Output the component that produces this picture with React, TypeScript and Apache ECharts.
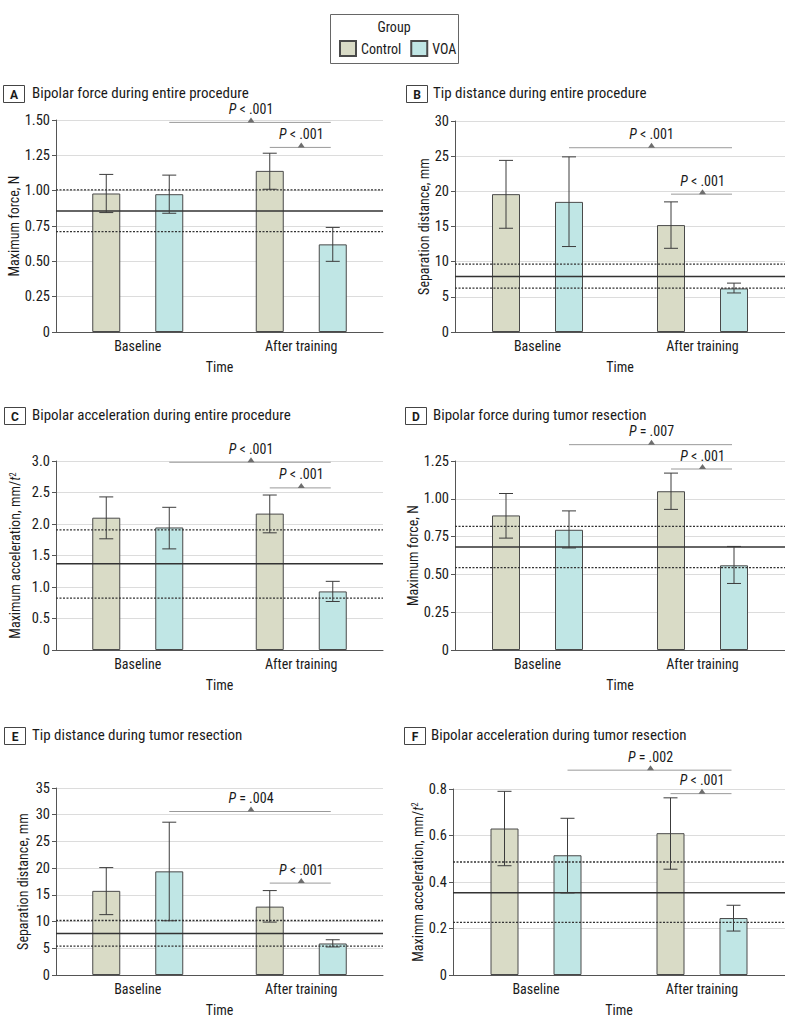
import React, { useEffect, useRef } from "react";
import * as echarts from "echarts";

// ---------------- data ----------------
const categories = ["Baseline", "After training"];
const groupNames = ["Control", "VOA"];

const panelLetters = ["A", "B", "C", "D", "E", "F"];
const panelTitles = [
  "Bipolar force during entire procedure",
  "Tip distance during entire procedure",
  "Bipolar acceleration during entire procedure",
  "Bipolar force during tumor resection",
  "Tip distance during tumor resection",
  "Bipolar acceleration during tumor resection",
];
const yAxisNames = [
  "Maximum force, N",
  "Separation distance, mm",
  "{a|Maximum acceleration, mm/}{b|t}{c|2}",
  "Maximum force, N",
  "Separation distance, mm",
  "{a|Maximm acceleration, mm/}{b|t}{c|2}",
];
const yMax = [1.5, 30, 3, 1.25, 35, 0.8];
const yInterval = [0.25, 5, 0.5, 0.25, 5, 0.2];
const yDecimals = [2, 0, 1, 2, 0, 1];

// means [Baseline, After training] per panel A..F
const controlMeans = [
  [0.98, 1.14],
  [19.6, 15.2],
  [2.1, 2.165],
  [0.89, 1.05],
  [15.75, 12.8],
  [0.63, 0.61],
];
const voaMeans = [
  [0.975, 0.62],
  [18.5, 6.2],
  [1.945, 0.93],
  [0.795, 0.56],
  [19.4, 5.9],
  [0.515, 0.245],
];
const controlLow = [
  [0.845, 1.01],
  [14.75, 11.9],
  [1.765, 1.86],
  [0.74, 0.93],
  [11.3, 9.9],
  [0.47, 0.455],
];
const controlHigh = [
  [1.115, 1.265],
  [24.4, 18.5],
  [2.43, 2.46],
  [1.035, 1.17],
  [20.1, 15.8],
  [0.79, 0.762],
];
const voaLow = [
  [0.84, 0.5],
  [12.15, 5.55],
  [1.605, 0.77],
  [0.675, 0.44],
  [10.15, 5.25],
  [0.353, 0.189],
];
const voaHigh = [
  [1.11, 0.74],
  [24.9, 6.95],
  [2.265, 1.09],
  [0.92, 0.685],
  [28.6, 6.6],
  [0.674, 0.3],
];
// reference band (mean, lower, upper)
const refMean = [0.856, 7.9, 1.368, 0.682, 7.78, 0.354];
const refLow = [0.71, 6.24, 0.824, 0.545, 5.42, 0.226];
const refHigh = [1.005, 9.64, 1.907, 0.817, 10.2, 0.486];
// significance brackets
const pTimeLabels = ["< .001", "< .001", "< .001", "= .007", "= .004", "= .002"];
const pTimeY = [1.483, 26.2, 2.98, 1.358, 30.6, 0.881];
const pGroupLabels = ["< .001", "< .001", "< .001", "< .001", "< .001", "< .001"];
const pGroupY = [1.306, 19.6, 2.573, 1.197, 17.2, 0.78];

// ---------------- layout ----------------
const layouts = [
  { left: 56, top: 120, width: 327, height: 212, boxX: 3, boxY: 85, titleX: 32, titleY: 93, nameGap: 35 },
  { left: 455, top: 121, width: 336, height: 211, boxX: 406, boxY: 85, titleX: 433, titleY: 93, nameGap: 24 },
  { left: 56, top: 461, width: 327, height: 189, boxX: 4, boxY: 407, titleX: 32, titleY: 415, nameGap: 34 },
  { left: 455, top: 461, width: 336, height: 189, boxX: 405, boxY: 407, titleX: 433, titleY: 415, nameGap: 33 },
  { left: 56, top: 788, width: 327, height: 187, boxX: 4, boxY: 727, titleX: 32, titleY: 735, nameGap: 26 },
  { left: 453, top: 789, width: 336, height: 186, boxX: 404, boxY: 727, titleX: 431, titleY: 735, nameGap: 28 },
];

const FONT = "'Liberation Sans Narrow', 'Arial Narrow', 'Roboto Condensed', Roboto, sans-serif";
const TEXT = "#1a1a1a";
const CONTROL_COLOR = "#d9dbc6";
const VOA_COLOR = "#c0e6e5";
const BAR_W = 28;
const BAR_GAP = 1.25;
const OFFSET = (BAR_W * (1 + BAR_GAP)) / 2;
const grpOffset = (g: number) => (g === 0 ? -OFFSET : OFFSET);

export default function App() {
  const ref = useRef<HTMLDivElement>(null);

  useEffect(() => {
    const chart = echarts.init(ref.current!, null, { renderer: "svg" });
    const grid: any[] = [];
    const xAxis: any[] = [];
    const yAxis: any[] = [];
    const series: any[] = [];
    const graphic: any[] = [];

    // legend box
    graphic.push({
      type: "rect",
      shape: { x: 330.5, y: 14.5, width: 128, height: 49 },
      style: { fill: "#fff", stroke: "#666", lineWidth: 1 },
      z: 0,
    });
    graphic.push({
      type: "text",
      x: 394,
      y: 27,
      style: {
        text: "Group",
        fontSize: 14,
        fontFamily: FONT,
        fill: TEXT,
        align: "center",
        verticalAlign: "middle",
        textAlign: "center",
        textVerticalAlign: "middle",
      },
      z: 1,
    });

    layouts.forEach((L, i) => {
      grid.push({ left: L.left, top: L.top, width: L.width, height: L.height });

      // panel heading
      graphic.push({
        type: "rect",
        shape: { x: L.boxX + 0.5, y: L.boxY + 0.5, width: 21, height: 17 },
        style: { fill: "#fff", stroke: "#444", lineWidth: 1 },
      });
      graphic.push({
        type: "text",
        x: L.boxX + 11,
        y: L.boxY + 9.5,
        style: {
          text: panelLetters[i],
          fontSize: 12,
          fontWeight: "bold",
          fontFamily: "Roboto, sans-serif",
          fill: TEXT,
          align: "center",
          verticalAlign: "middle",
          textAlign: "center",
          textVerticalAlign: "middle",
        },
      });
      graphic.push({
        type: "text",
        x: L.titleX,
        y: L.titleY,
        style: {
          text: panelTitles[i],
          fontSize: 15,
          lineHeight: 15,
          fontFamily: FONT,
          fill: TEXT,
          align: "left",
          verticalAlign: "middle",
          textAlign: "left",
          textVerticalAlign: "middle",
        },
      });

      xAxis.push({
        type: "category",
        gridIndex: i,
        data: categories,
        axisLine: { lineStyle: { color: "#555", width: 1 } },
        axisTick: { show: false },
        axisLabel: { color: TEXT, fontSize: 14, fontFamily: FONT, margin: 7 },
        splitLine: { show: false },
        name: "Time",
        nameLocation: "middle",
        nameGap: 28,
        nameTextStyle: { color: TEXT, fontSize: 14, fontFamily: FONT },
      });

      yAxis.push({
        type: "value",
        gridIndex: i,
        min: 0,
        max: yMax[i],
        interval: yInterval[i],
        axisLine: { show: true, lineStyle: { color: "#555", width: 1 } },
        axisTick: { show: true, length: 4, lineStyle: { color: "#555" } },
        axisLabel: {
          color: TEXT,
          fontSize: 14.5,
          fontFamily: FONT,
          margin: 6,
          formatter: (v: number) => (v === 0 ? "0" : v.toFixed(yDecimals[i])),
        },
        splitLine: { lineStyle: { color: "#dcdcdc", width: 1 } },
        name: yAxisNames[i],
        nameLocation: "middle",
        nameRotate: 90,
        nameGap: L.nameGap,
        nameTextStyle: {
          color: TEXT,
          fontSize: 14,
          fontFamily: FONT,
          rich: {
            a: { color: TEXT, fontSize: 14, fontFamily: FONT },
            b: { color: TEXT, fontSize: 14, fontFamily: FONT, fontStyle: "italic" },
            c: { color: TEXT, fontSize: 9, fontFamily: FONT, verticalAlign: "top" },
          },
        },
      });

      series.push({
        type: "bar",
        name: groupNames[0],
        xAxisIndex: i,
        yAxisIndex: i,
        data: controlMeans[i],
        barWidth: BAR_W,
        barGap: BAR_GAP * 100 + "%",
        itemStyle: { color: CONTROL_COLOR, borderColor: "#4a4a4a", borderWidth: 1 },
        z: 2,
      });
      series.push({
        type: "bar",
        name: groupNames[1],
        xAxisIndex: i,
        yAxisIndex: i,
        data: voaMeans[i],
        barWidth: BAR_W,
        barGap: BAR_GAP * 100 + "%",
        itemStyle: { color: VOA_COLOR, borderColor: "#4a4a4a", borderWidth: 1 },
        z: 2,
      });

      // reference lines
      series.push({
        type: "custom",
        xAxisIndex: i,
        yAxisIndex: i,
        z: 3,
        silent: true,
        data: [
          [0, refMean[i], 0],
          [0, refLow[i], 1],
          [0, refHigh[i], 1],
        ],
        encode: { x: 0, y: 1 },
        renderItem: (params: any, api: any) => {
          const cs = params.coordSys;
          const y = api.coord([0, api.value(1)])[1];
          const dotted = api.value(2) === 1;
          return {
            type: "line",
            shape: { x1: cs.x, y1: y, x2: cs.x + cs.width, y2: y },
            style: {
              stroke: "#333",
              lineWidth: dotted ? 1.3 : 1.5,
              lineDash: dotted ? [2, 1.5] : null,
            },
          };
        },
      });

      // error bars
      series.push({
        type: "custom",
        xAxisIndex: i,
        yAxisIndex: i,
        z: 4,
        silent: true,
        data: [
          [0, 0, controlLow[i][0], controlHigh[i][0]],
          [1, 0, controlLow[i][1], controlHigh[i][1]],
          [0, 1, voaLow[i][0], voaHigh[i][0]],
          [1, 1, voaLow[i][1], voaHigh[i][1]],
        ],
        encode: { x: 0, y: [2, 3] },
        renderItem: (params: any, api: any) => {
          const cat = api.value(0);
          const g = api.value(1);
          const lo = api.coord([cat, api.value(2)]);
          const hi = api.coord([cat, api.value(3)]);
          const x = lo[0] + grpOffset(g);
          const s = { stroke: "#3c3c3c", lineWidth: 1 };
          return {
            type: "group",
            children: [
              { type: "line", shape: { x1: x, y1: lo[1], x2: x, y2: hi[1] }, style: s },
              { type: "line", shape: { x1: x - 7, y1: hi[1], x2: x + 7, y2: hi[1] }, style: s },
              { type: "line", shape: { x1: x - 7, y1: lo[1], x2: x + 7, y2: lo[1] }, style: s },
            ],
          };
        },
      });

      // significance brackets
      const sigLabels = [pTimeLabels[i], pGroupLabels[i]];
      series.push({
        type: "custom",
        xAxisIndex: i,
        yAxisIndex: i,
        z: 4,
        silent: true,
        clip: false,
        data: [
          [0, 1, 1, 1, pTimeY[i]],
          [1, 0, 1, 1, pGroupY[i]],
        ],
        encode: { x: [0, 2], y: 4 },
        renderItem: (params: any, api: any) => {
          const y = api.value(4);
          const p1 = api.coord([api.value(0), y]);
          const p2 = api.coord([api.value(2), y]);
          const x1 = p1[0] + grpOffset(api.value(1));
          const x2 = p2[0] + grpOffset(api.value(3));
          const yy = p1[1];
          const mx = (x1 + x2) / 2;
          return {
            type: "group",
            children: [
              {
                type: "line",
                shape: { x1, y1: yy, x2: x2 - 2, y2: yy },
                style: { stroke: "#9a9a9a", lineWidth: 1 },
              },
              {
                type: "polygon",
                shape: { points: [[mx - 3.5, yy], [mx + 3.5, yy], [mx, yy - 5]] },
                style: { fill: "#6e6e6e" },
              },
              {
                type: "text",
                x: mx,
                y: yy - 13.5,
                style: {
                  text: "{i|P}{n| " + sigLabels[params.dataIndex] + "}",
                  align: "center",
                  verticalAlign: "middle",
                  textAlign: "center",
                  textVerticalAlign: "middle",
                  fill: TEXT,
                  fontSize: 14,
                  lineHeight: 13,
                  fontFamily: FONT,
                  rich: {
                    i: { fill: TEXT, fontSize: 14, lineHeight: 13, fontFamily: FONT, fontStyle: "italic" },
                    n: { fill: TEXT, fontSize: 14, lineHeight: 13, fontFamily: FONT },
                  },
                },
              },
            ],
          };
        },
      });
    });

    chart.setOption({
      animation: false,
      backgroundColor: "#ffffff",
      textStyle: { fontFamily: FONT },
      legend: {
        data: groupNames,
        left: 339,
        top: 40,
        padding: 0,
        itemWidth: 16,
        itemHeight: 15,
        itemGap: 9,
        icon: "rect",
        selectedMode: false,
        textStyle: { color: TEXT, fontSize: 14, fontFamily: FONT, padding: [0, 0, 0, 0] },
      },
      grid,
      xAxis,
      yAxis,
      series,
      graphic,
    });

    return () => chart.dispose();
  }, []);

  return (
    <div
      ref={ref}
      style={{ position: "absolute", left: 0, top: 0, width: 785, height: 1028, background: "#fff" }}
    />
  );
}
